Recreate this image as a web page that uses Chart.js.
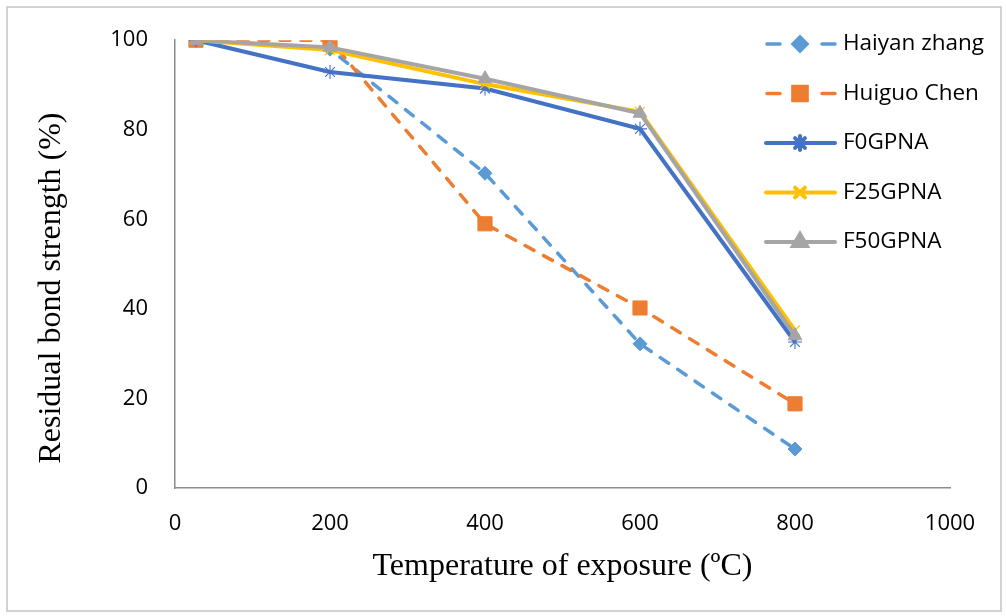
<!DOCTYPE html>
<html>
<head>
<meta charset="utf-8">
<script src="https://cdn.jsdelivr.net/npm/chart.js@4"></script>
<style>
  html, body { margin: 0; padding: 0; background: #fff; }
  #wrap { width: 1006px; height: 616px; }
</style>
</head>
<body>
<div id="wrap"><canvas id="myChart" width="1006" height="616"></canvas></div>
<script>
const temps = [27, 200, 400, 600, 800];
const haiyanZhang = [100, 98, 70.3, 32.2, 8.7];
const huiguoChen = [100, 100, 59, 40.2, 18.8];
const f0gpna = [100, 92.9, 89.2, 80.2, 32.6];
const f25gpna = [100, 97.8, 90.2, 84, 35.2];
const f50gpna = [100, 98.4, 91.4, 83.7, 34];
const xTicks = [0, 200, 400, 600, 800, 1000];
const yTicks = [0, 20, 40, 60, 80, 100];
const yTitle = 'Residual bond strength (%)';

function pts(ys) {
    return temps.map((t, i) => ({x: t, y: ys[i]}));
}

const ctx = document.getElementById('myChart');

// white background + thin outer frame
const frame = {
    id: 'frame',
    beforeDraw(chart) {
        const c = chart.ctx;
        c.save();
        c.fillStyle = '#fff';
        c.fillRect(0, 0, chart.width, chart.height);
        c.strokeStyle = '#c4c4c4';
        c.lineWidth = 1.5;
        c.strokeRect(7, 7, 994, 604);
        c.restore();
    },
    afterDraw(chart) {
        // y title sits a bit below the axis middle in the original
        const c = chart.ctx;
        c.save();
        c.translate(52, 288);
        c.rotate(-Math.PI / 2);
        c.fillStyle = '#000';
        c.font = '32px "Liberation Serif"';
        c.textAlign = 'center';
        c.textBaseline = 'middle';
        c.fillText(yTitle, 0, 0);
        c.restore();
    }
};

// legend drawn inside the plot, top right
const insideLegend = {
    id: 'insideLegend',
    afterDraw(chart) {
        const c = chart.ctx;
        const helpers = Chart.helpers || {};
        chart.data.datasets.forEach((ds, i) => {
            const y = 44 + i * 49.5;
            c.save();
            c.strokeStyle = ds.borderColor;
            c.lineWidth = ds.borderWidth;
            c.lineCap = 'round';
            c.beginPath();
            if (ds.borderDash && ds.borderDash.length) {
                c.moveTo(767, y); c.lineTo(780, y);
                c.moveTo(822, y); c.lineTo(835, y);
            } else {
                c.moveTo(766, y); c.lineTo(835, y);
            }
            c.stroke();
            c.fillStyle = ds.pointBackgroundColor;
            c.strokeStyle = ds.pointBorderColor;
            c.setLineDash([]);
            if (helpers.drawPoint) {
                helpers.drawPoint(c, {
                    pointStyle: ds.pointStyle,
                    radius: ds.pointRadius,
                    rotation: 0,
                    borderWidth: ds.pointBorderWidth
                }, 800, y);
            }
            c.fillStyle = '#000';
            c.font = '22.5px "Open Sans"';
            c.textBaseline = 'middle';
            c.textAlign = 'left';
            c.fillText(ds.label, 843, y);
            c.restore();
        });
    }
};

new Chart(ctx, {
    type: 'line',
    data: {
        datasets: [{
            label: 'Haiyan zhang',
            data: pts(haiyanZhang),
            borderColor: '#5B9BD5',
            borderWidth: 3.5,
            borderDash: [10, 11],
            borderCapStyle: 'round',
            pointStyle: 'rectRot',
            pointRadius: 7,
            pointBackgroundColor: '#5B9BD5',
            pointBorderColor: '#5B9BD5',
            pointBorderWidth: 1,
            order: 5
        }, {
            label: 'Huiguo Chen',
            data: pts(huiguoChen),
            borderColor: '#ED7D31',
            borderWidth: 3.5,
            borderDash: [10, 11],
            borderCapStyle: 'round',
            pointStyle: 'rect',
            pointRadius: 10,
            pointBackgroundColor: '#ED7D31',
            pointBorderColor: '#ED7D31',
            pointBorderWidth: 1,
            order: 4
        }, {
            label: 'F0GPNA',
            data: pts(f0gpna),
            borderColor: '#4472C4',
            borderWidth: 4,
            pointStyle: 'star',
            pointRadius: 7,
            pointBackgroundColor: '#4472C4',
            pointBorderColor: '#4472C4',
            pointBorderWidth: 1.1,
            order: 3
        }, {
            label: 'F25GPNA',
            data: pts(f25gpna),
            borderColor: '#FFC000',
            borderWidth: 4,
            pointStyle: 'crossRot',
            pointRadius: 7,
            pointBackgroundColor: '#FFC000',
            pointBorderColor: '#FFC000',
            pointBorderWidth: 1.2,
            order: 2
        }, {
            label: 'F50GPNA',
            data: pts(f50gpna),
            borderColor: '#A5A5A5',
            borderWidth: 4,
            pointStyle: 'triangle',
            pointRadius: 8,
            pointBackgroundColor: '#A5A5A5',
            pointBorderColor: '#A5A5A5',
            pointBorderWidth: 1,
            order: 1
        }]
    },
    options: {
        responsive: false,
        animation: false,
        layout: { padding: { top: 40, right: 56, left: 0, bottom: 0 } },
        plugins: {
            legend: { display: false },
            tooltip: { enabled: false }
        },
        scales: {
            x: {
                type: 'linear',
                min: 0,
                max: 1000,
                afterFit(scale) { scale.height = 128; },
                afterBuildTicks(scale) { scale.ticks = xTicks.map(v => ({value: v})); },
                grid: { display: false, drawTicks: false },
                border: { display: true, color: '#8c8c8c', width: 1.5 },
                ticks: {
                    padding: 23,
                    color: '#000',
                    font: { family: 'Open Sans', size: 22 },
                    callback: v => String(v)
                },
                title: {
                    display: true,
                    text: 'Temperature of exposure (ºC)',
                    color: '#000',
                    font: { family: 'Liberation Serif', size: 32 },
                    padding: { top: 0, bottom: 30 }
                }
            },
            y: {
                min: 0,
                max: 100,
                afterFit(scale) { scale.width = 175; },
                afterBuildTicks(scale) { scale.ticks = yTicks.map(v => ({value: v})); },
                grid: { display: false, drawTicks: false },
                border: { display: true, color: '#8c8c8c', width: 1.5 },
                ticks: {
                    padding: 27,
                    color: '#000',
                    font: { family: 'Open Sans', size: 22 },
                    callback: v => String(v)
                }
            }
        }
    },
    plugins: [frame, insideLegend]
});
</script>
</body>
</html>
